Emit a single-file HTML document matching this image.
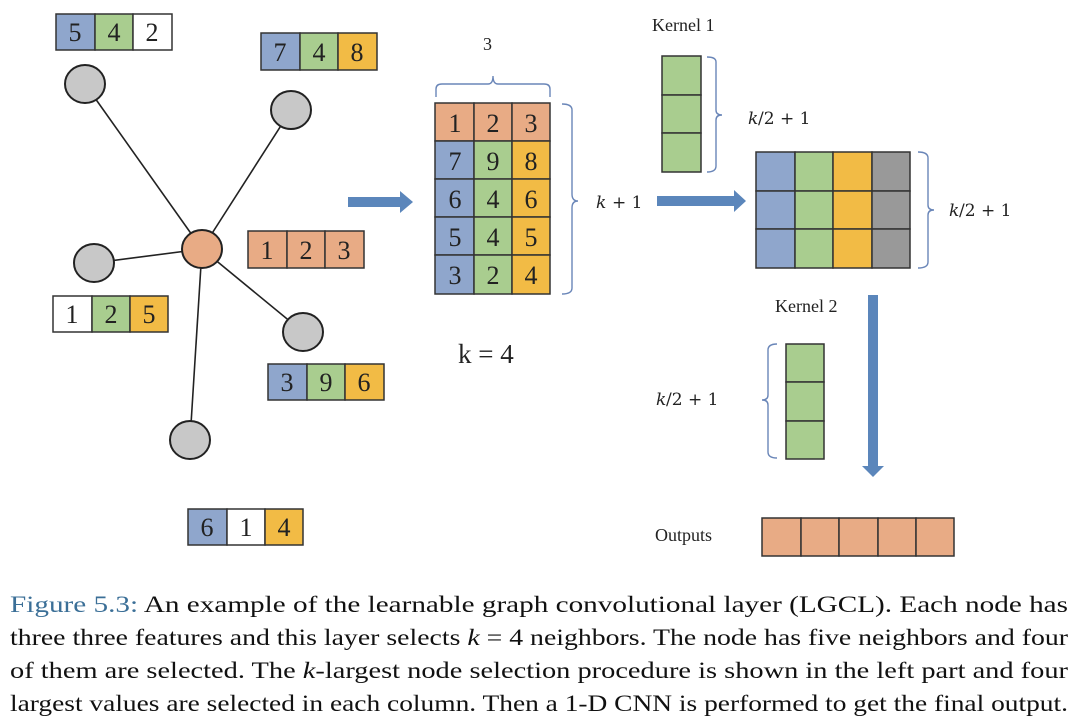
<!DOCTYPE html>
<html><head><meta charset="utf-8"><style>
html,body{margin:0;padding:0;background:#fff;}
svg{display:block;}
.n{font-family:"Liberation Serif",serif;font-size:26px;fill:#222;text-anchor:middle;}
.l{font-family:"Liberation Serif",serif;font-size:18px;fill:#222;}
.m{font-family:"DejaVu Serif","Liberation Serif",serif;font-size:17px;fill:#222;}
.c{font-family:"Liberation Serif",serif;font-size:23px;fill:#111;}
</style></head><body>
<svg width="1080" height="728" viewBox="0 0 1080 728" xmlns="http://www.w3.org/2000/svg">
<g stroke="#222" stroke-width="1.6">
<line x1="202" y1="249" x2="85" y2="84"/>
<line x1="202" y1="249" x2="291" y2="110"/>
<line x1="202" y1="249" x2="94" y2="263"/>
<line x1="202" y1="249" x2="303" y2="332"/>
<line x1="202" y1="249" x2="190" y2="440"/>
</g>
<g stroke="#222" stroke-width="2" fill="#c8c8c8">
<ellipse cx="85" cy="84" rx="20" ry="19"/>
<ellipse cx="291" cy="110" rx="20" ry="19"/>
<ellipse cx="94" cy="263" rx="20" ry="19"/>
<ellipse cx="303" cy="332" rx="20" ry="19"/>
<ellipse cx="190" cy="440" rx="20" ry="19"/>
<ellipse cx="202" cy="249" rx="20" ry="19" fill="#e8ab85"/>
</g>
<g stroke="#333" stroke-width="1.5">
<rect x="56" y="14" width="39" height="36" fill="#8fa6cc"/><rect x="95" y="14" width="38" height="36" fill="#a9cd8f"/><rect x="133" y="14" width="39" height="36" fill="#fff"/>
<rect x="261" y="33" width="39" height="37" fill="#8fa6cc"/><rect x="300" y="33" width="38" height="37" fill="#a9cd8f"/><rect x="338" y="33" width="39" height="37" fill="#f2bb45"/>
<rect x="248" y="231" width="39" height="37" fill="#e8ab85"/><rect x="287" y="231" width="38" height="37" fill="#e8ab85"/><rect x="325" y="231" width="39" height="37" fill="#e8ab85"/>
<rect x="53" y="296" width="39" height="36" fill="#fff"/><rect x="92" y="296" width="38" height="36" fill="#a9cd8f"/><rect x="130" y="296" width="38" height="36" fill="#f2bb45"/>
<rect x="268" y="364" width="39" height="36" fill="#8fa6cc"/><rect x="307" y="364" width="38" height="36" fill="#a9cd8f"/><rect x="345" y="364" width="39" height="36" fill="#f2bb45"/>
<rect x="188" y="509" width="39" height="36" fill="#8fa6cc"/><rect x="227" y="509" width="38" height="36" fill="#fff"/><rect x="265" y="509" width="38" height="36" fill="#f2bb45"/>
</g>
<g>
<text x="75" y="41" class="n">5</text><text x="114" y="41" class="n">4</text><text x="152" y="41" class="n">2</text>
<text x="280" y="61" class="n">7</text><text x="319" y="61" class="n">4</text><text x="357" y="61" class="n">8</text>
<text x="267" y="259" class="n">1</text><text x="306" y="259" class="n">2</text><text x="344" y="259" class="n">3</text>
<text x="72" y="323" class="n">1</text><text x="111" y="323" class="n">2</text><text x="149" y="323" class="n">5</text>
<text x="287" y="391" class="n">3</text><text x="326" y="391" class="n">9</text><text x="364" y="391" class="n">6</text>
<text x="207" y="536" class="n">6</text><text x="246" y="536" class="n">1</text><text x="284" y="536" class="n">4</text>
</g>
<polygon points="348,197 400,197 400,191 413,202 400,213 400,207 348,207" fill="#5b86bb"/>
<g stroke="#333" stroke-width="1.5">
<rect x="435" y="103" width="39" height="38" fill="#e8ab85"/><rect x="474" y="103" width="38" height="38" fill="#e8ab85"/><rect x="512" y="103" width="38" height="38" fill="#e8ab85"/>
<rect x="435" y="141" width="39" height="38" fill="#8fa6cc"/><rect x="474" y="141" width="38" height="38" fill="#a9cd8f"/><rect x="512" y="141" width="38" height="38" fill="#f2bb45"/>
<rect x="435" y="179" width="39" height="38" fill="#8fa6cc"/><rect x="474" y="179" width="38" height="38" fill="#a9cd8f"/><rect x="512" y="179" width="38" height="38" fill="#f2bb45"/>
<rect x="435" y="217" width="39" height="38" fill="#8fa6cc"/><rect x="474" y="217" width="38" height="38" fill="#a9cd8f"/><rect x="512" y="217" width="38" height="38" fill="#f2bb45"/>
<rect x="435" y="255" width="39" height="39" fill="#8fa6cc"/><rect x="474" y="255" width="38" height="39" fill="#a9cd8f"/><rect x="512" y="255" width="38" height="39" fill="#f2bb45"/>
</g>
<g>
<text x="455" y="132" class="n">1</text><text x="493" y="132" class="n">2</text><text x="531" y="132" class="n">3</text>
<text x="455" y="170" class="n">7</text><text x="493" y="170" class="n">9</text><text x="531" y="170" class="n">8</text>
<text x="455" y="208" class="n">6</text><text x="493" y="208" class="n">4</text><text x="531" y="208" class="n">6</text>
<text x="455" y="246" class="n">5</text><text x="493" y="246" class="n">4</text><text x="531" y="246" class="n">5</text>
<text x="455" y="284" class="n">3</text><text x="493" y="284" class="n">2</text><text x="531" y="284" class="n">4</text>
</g>
<g fill="none" stroke="#6a86b8" stroke-width="1.4">
<path d="M436,97 L436,89 Q436,84 442,84 L488,84 Q493,84 493,76 Q493,84 498,84 L544,84 Q550,84 550,89 L550,97"/>
<path d="M562,104 Q572,104 572,110 L572,194 Q572,201 578,201 Q572,201 572,208 L572,288 Q572,294 562,294"/>
<path d="M707,57 Q716,57 716,62 L716,110 Q716,115 722,115 Q716,115 716,120 L716,166 Q716,172 707,172"/>
<path d="M918,152 Q928,152 928,158 L928,205 Q928,210 934,210 Q928,210 928,215 L928,262 Q928,268 918,268"/>
<path d="M777,344 Q768,344 768,350 L768,395 Q768,400 762,400 Q768,400 768,405 L768,452 Q768,458 777,458"/>
</g>
<text x="483" y="50" class="l">3</text>
<text x="596" y="208" class="m" font-style="italic">k</text><text x="612" y="208" class="m">+ 1</text>
<text x="748" y="124" class="m" font-style="italic">k</text><text x="758" y="124" class="m">/2 + 1</text>
<text x="949" y="216" class="m" font-style="italic">k</text><text x="959" y="216" class="m">/2 + 1</text>
<text x="656" y="405" class="m" font-style="italic">k</text><text x="666" y="405" class="m">/2 + 1</text>
<text x="458" y="363" style="font-family:'Liberation Serif',serif;font-size:27px;fill:#222">k = 4</text>
<text x="652" y="31" class="l">Kernel 1</text>
<text x="775" y="312" class="l">Kernel 2</text>
<text x="655" y="541" class="l">Outputs</text>
<g stroke="#333" stroke-width="1.5" fill="#a9cd8f">
<rect x="662" y="56" width="39" height="39"/><rect x="662" y="95" width="39" height="38"/><rect x="662" y="133" width="39" height="39"/>
<rect x="786" y="344" width="38" height="38"/><rect x="786" y="382" width="38" height="39"/><rect x="786" y="421" width="38" height="38"/>
</g>
<polygon points="657,196 734,196 734,190 746,201 734,212 734,206 657,206" fill="#5b86bb"/>
<g stroke="#333" stroke-width="1.5">
<rect x="756" y="152" width="39" height="39" fill="#8fa6cc"/><rect x="795" y="152" width="38" height="39" fill="#a9cd8f"/><rect x="833" y="152" width="39" height="39" fill="#f2bb45"/><rect x="872" y="152" width="38" height="39" fill="#999"/>
<rect x="756" y="191" width="39" height="38" fill="#8fa6cc"/><rect x="795" y="191" width="38" height="38" fill="#a9cd8f"/><rect x="833" y="191" width="39" height="38" fill="#f2bb45"/><rect x="872" y="191" width="38" height="38" fill="#999"/>
<rect x="756" y="229" width="39" height="39" fill="#8fa6cc"/><rect x="795" y="229" width="38" height="39" fill="#a9cd8f"/><rect x="833" y="229" width="39" height="39" fill="#f2bb45"/><rect x="872" y="229" width="38" height="39" fill="#999"/>
</g>
<polygon points="868,295 878,295 878,466 884,466 873,477 862,466 868,466" fill="#5b86bb"/>
<g stroke="#333" stroke-width="1.5" fill="#e8ab85">
<rect x="762" y="518" width="39" height="38"/><rect x="801" y="518" width="38" height="38"/><rect x="839" y="518" width="39" height="38"/><rect x="878" y="518" width="38" height="38"/><rect x="916" y="518" width="38" height="38"/>
</g>
<text x="10" y="612" class="c" textLength="1058" lengthAdjust="spacingAndGlyphs"><tspan fill="#3b6f97">Figure 5.3:</tspan> An example of the learnable graph convolutional layer (LGCL). Each node has</text>
<text x="10" y="645" class="c" textLength="1058" lengthAdjust="spacingAndGlyphs">three three features and this layer selects <tspan font-style="italic">k</tspan> = 4 neighbors. The node has five neighbors and four</text>
<text x="10" y="678" class="c" textLength="1058" lengthAdjust="spacingAndGlyphs">of them are selected. The <tspan font-style="italic">k</tspan>-largest node selection procedure is shown in the left part and four</text>
<text x="10" y="711" class="c" textLength="1058" lengthAdjust="spacingAndGlyphs">largest values are selected in each column. Then a 1-D CNN is performed to get the final output.</text>
</svg>
</body></html>
